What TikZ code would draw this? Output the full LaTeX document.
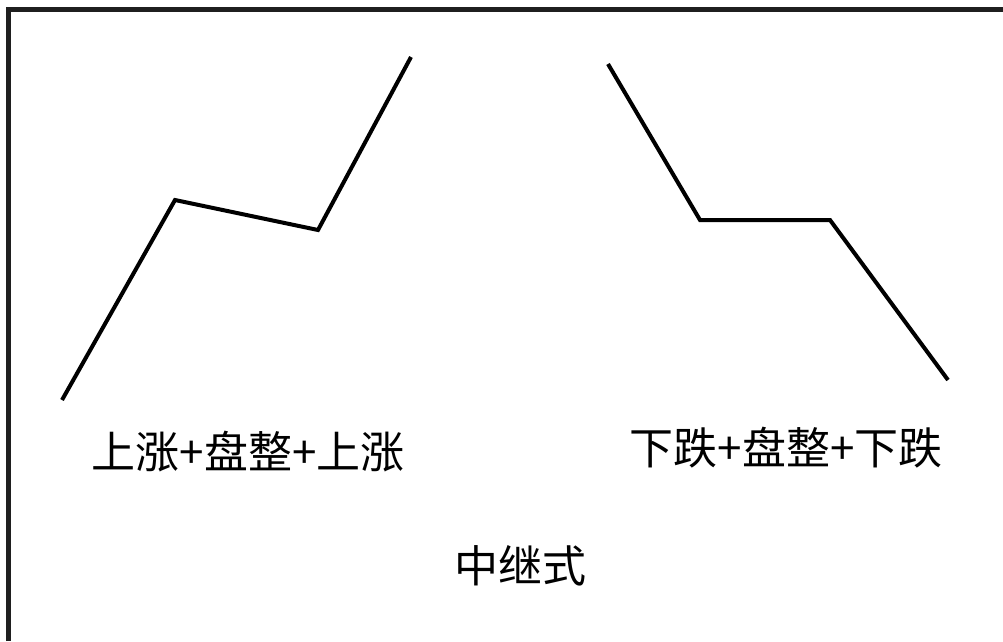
\documentclass[tikz,border=0pt]{standalone}
\usepackage{fontspec}
\newfontfamily\cjk{Noto Sans CJK SC}
\usetikzlibrary{positioning}

\begin{document}
\begin{tikzpicture}[
  x=1pt,y=-1pt,
  trend/.style={draw=black,line width=4pt,line join=miter},
  frameline/.style={draw=black!88,line width=5pt},
  caption/.style={font=\cjk\fontsize{44}{50}\selectfont,inner sep=0pt}
]
\useasboundingbox (0,0) rectangle (1003,641);
% frame, top and left only
\draw[frameline] (8.5,641) -- (8.5,9.5) -- (1003,9.5);
% rise + consolidation + rise
\draw[trend] (62,400) -- (175,200) -- (318,230) -- (411,57);
% fall + consolidation + fall
\draw[trend] (608,64) -- (700,220) -- (830,220) -- (948,380);
% labels
\node[caption] (up) at (248,452) {上涨+盘整+上涨};
\node[caption] (down) at (786,448) {下跌+盘整+下跌};
\node[caption] (kind) at (520,566) {中继式};
\end{tikzpicture}
\end{document}
